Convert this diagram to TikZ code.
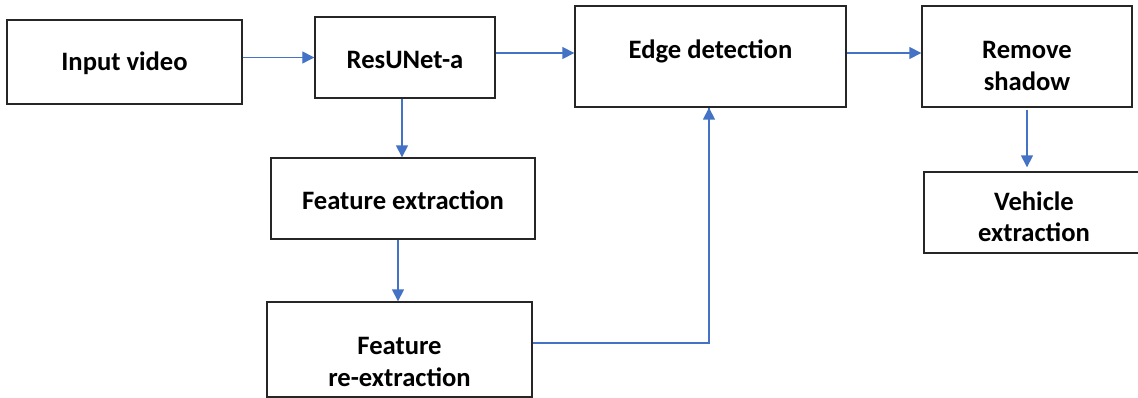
\documentclass[tikz,border=0pt]{standalone}
\usepackage{fontspec}
\setmainfont{Carlito}
\usetikzlibrary{arrows.meta}
\definecolor{arrowblue}{HTML}{4472C4}
\definecolor{boxline}{HTML}{262626}
\tikzset{
  box/.style={draw=boxline, line width=1.4pt, inner sep=0pt, fill=white},
  lbl/.style={font=\fontsize{26.6}{32}\selectfont\bfseries, align=center, anchor=base, inner sep=0pt},
  arr/.style={draw=arrowblue, line width=1.6pt, -{Triangle[length=12pt,width=12pt]}},
  conn/.style={draw=arrowblue, line width=1.4pt}
}
\begin{document}
\begin{tikzpicture}[x=1pt,y=-1pt]
\useasboundingbox (0,0) rectangle (1138,398);
\clip (0,0) rectangle (1138,398);
\fill[white] (0,0) rectangle (1138,398);
% boxes
\node[box, minimum width=235pt, minimum height=84pt] (inp) at (124.5,62) {};
\node[box, minimum width=180pt, minimum height=81pt] (res) at (405,57.5) {};
\node[box, minimum width=271pt, minimum height=101pt] (edge) at (710.5,56.5) {};
\node[box, minimum width=210pt, minimum height=101pt] (rem) at (1027,56.5) {};
\node[box, minimum width=232pt, minimum height=81pt] (veh) at (1040,212.5) {};
\node[box, minimum width=264pt, minimum height=81pt] (fe) at (403,198.5) {};
\node[box, minimum width=265pt, minimum height=95pt] (fre) at (399.5,349.5) {};
% labels
\node[lbl] (inpT) at (124.5,71) {Input video};
\node[lbl] (resT) at (405,69) {ResUNet-a};
\node[lbl] (edgeT) at (710.5,59) {Edge detection};
\node[lbl] (remT) at (1027,91) {Remove\\shadow};
\node[lbl] (vehT) at (1034,242) {Vehicle\\extraction};
\node[lbl] (feT) at (403,210) {Feature extraction};
\node[lbl] (freT) at (399.5,386) {Feature\\re-extraction};
% connectors
\draw[arr, line width=1.2pt] (inp.east |- res.west) -- (res.west);
\draw[arr] ([yshift=4.5pt]res.east) -- ([yshift=4.5pt]res.east -| edge.west);
\draw[arr] ([yshift=3.5pt]edge.east) -- ([yshift=3.5pt]edge.east -| rem.west);
\draw[arr] ([xshift=-3pt]res.south) -- ([xshift=-3pt]res.south |- fe.north);
\draw[arr] ([xshift=-5pt]fe.south) -- ([xshift=-5pt]fe.south |- fre.north);
\draw[arr, shorten <=2pt, shorten >=4pt] (rem.south) -- (rem.south |- veh.north);
\draw[conn] ([yshift=6.5pt]fre.east) -| ([xshift=-1.5pt]edge.south);
\draw[arr] ([xshift=-1.5pt,yshift=-14pt]edge.south) -- ([xshift=-1.5pt]edge.south);
\end{tikzpicture}
\end{document}
